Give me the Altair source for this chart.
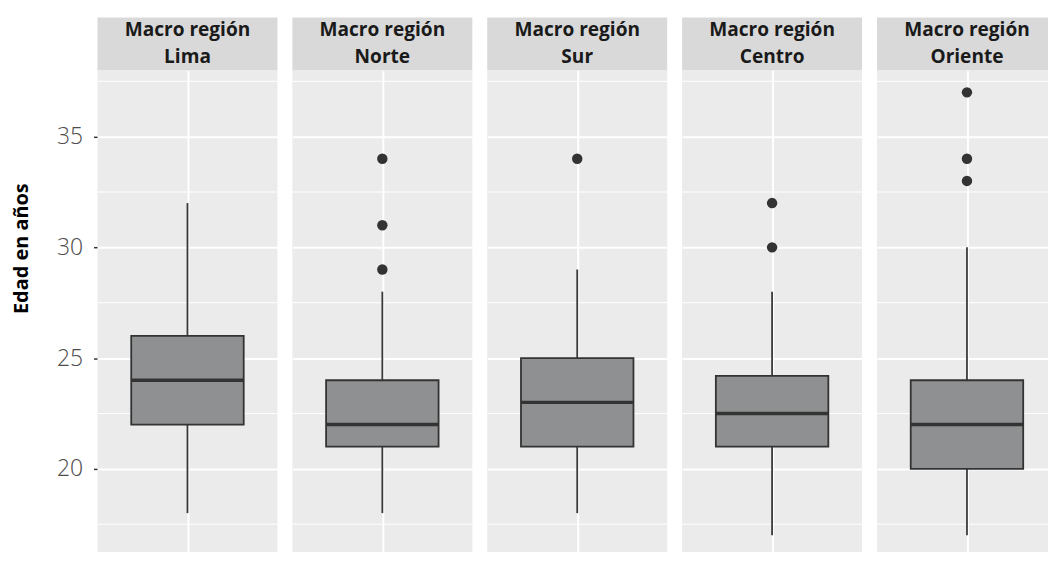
import altair as alt
import pandas as pd

regions = ["Lima", "Norte", "Sur", "Centro", "Oriente"]
strip_labels = ["Macro región\nLima", "Macro región\nNorte", "Macro región\nSur",
                "Macro región\nCentro", "Macro región\nOriente"]
whisker_low = [18, 18, 18, 17, 17]
q1 = [22, 21, 21, 21, 20]
median = [24, 22, 23, 22.5, 22]
q3 = [26, 24, 25, 24.2, 24]
whisker_high = [32, 28, 29, 28, 30]
outlier_region = ["Norte", "Norte", "Norte", "Sur", "Centro", "Centro",
                  "Oriente", "Oriente", "Oriente"]
outlier_value = [29, 31, 34, 34, 30, 32, 33, 34, 37]
major_breaks = [20, 25, 30, 35]
minor_breaks = [17.5, 22.5, 27.5, 32.5, 37.5]

rows = []
for i, r in enumerate(regions):
    rows.append(dict(kind="box", region=r, label=strip_labels[i], lo=whisker_low[i],
                     q1=q1[i], med=median[i], q3=q3[i], hi=whisker_high[i], v=None))
for r, v in zip(outlier_region, outlier_value):
    rows.append(dict(kind="out", region=r, label=None, lo=None, q1=None, med=None,
                     q3=None, hi=None, v=v))
for r in regions:
    for m in minor_breaks:
        rows.append(dict(kind="minor", region=r, label=None, lo=None, q1=None, med=None,
                         q3=None, hi=None, v=m))
df = pd.DataFrame(rows)

FONT = "Open Sans"
W, H = 181, 490

yscale = alt.Scale(domain=[16, 38], nice=False, zero=False)
xscale = alt.Scale(domain=[-0.6, 0.6], nice=False, zero=False)
xaxis = alt.Axis(values=[0], labels=False, title=None, domain=False, ticks=True,
                 tickSize=4, tickColor="#333333", tickWidth=1.5,
                 grid=True, gridColor="white", gridWidth=2)
yaxis = alt.Axis(values=major_breaks, title="Edad en años", domain=False,
                 tickSize=4, tickColor="#333333", tickWidth=1.5,
                 labelFont="Open Sans Light, Open Sans", labelFontSize=23, labelFontWeight=300,
                 labelColor="#4D4D4D", labelPadding=11,
                 grid=True, gridColor="white", gridWidth=2,
                 titleFont=FONT, titleFontSize=20, titleFontWeight="bold",
                 titleColor="#000000", titleAngle=270, titleX=-76, titleY=179,
                 titleAlign="center", titleBaseline="middle")

base = alt.Chart()

minor = base.transform_filter(alt.datum.kind == "minor").mark_rule(
    color="white", strokeWidth=1).encode(
    y=alt.Y("v:Q", scale=yscale, axis=yaxis),
    x=alt.X(datum=-0.6, scale=xscale, axis=xaxis),
    x2=alt.X2(datum=0.6),
)

boxes = base.transform_filter(alt.datum.kind == "box")

wl = boxes.mark_rule(color="#3A3A3A", strokeWidth=1.8).encode(
    x=alt.X(datum=0, scale=xscale),
    y=alt.Y("lo:Q", scale=yscale),
    y2="q1:Q",
)
wh = boxes.mark_rule(color="#3A3A3A", strokeWidth=1.8).encode(
    x=alt.X(datum=0, scale=xscale),
    y=alt.Y("q3:Q", scale=yscale),
    y2="hi:Q",
)
box = boxes.mark_rect(fill="#8F9091", stroke="#333333", strokeWidth=1.8).encode(
    x=alt.X(datum=-0.375, scale=xscale),
    x2=alt.X2(datum=0.375),
    y=alt.Y("q1:Q", scale=yscale),
    y2="q3:Q",
)
med = boxes.mark_rule(color="#333333", strokeWidth=3.4).encode(
    x=alt.X(datum=-0.375, scale=xscale),
    x2=alt.X2(datum=0.375),
    y=alt.Y("med:Q", scale=yscale),
)
pts = base.transform_filter(alt.datum.kind == "out").mark_circle(
    color="#333333", opacity=1, size=110).encode(
    x=alt.X(datum=0, scale=xscale),
    y=alt.Y("v:Q", scale=yscale),
)
strip = boxes.mark_rect(fill="#D9D9D9").encode(
    x=alt.value(0), x2=alt.value(W), y=alt.value(-53), y2=alt.value(0),
)
strip_text = boxes.mark_text(lineBreak="\n", font=FONT, fontSize=19.2, fontWeight="bold",
                             color="#1A1A1A", baseline="alphabetic", align="center",
                             lineHeight=26.7).encode(
    x=alt.value(W / 2), y=alt.value(-34), text="label:N",
)

layer = alt.layer(minor, wl, wh, box, med, pts, strip, strip_text).properties(
    width=W, height=H)

chart = layer.facet(
    column=alt.Column("region:N", sort=regions, header=alt.Header(title=None, labels=False)),
    data=df,
    spacing=15,
).properties(
    bounds="flush",
    padding={"left": 4, "top": 8, "right": -10, "bottom": -12},
    background="white",
).configure_view(fill="#EBEBEB", stroke=None)

chart.save("out.html", embed_options={"renderer": "svg", "actions": False})
